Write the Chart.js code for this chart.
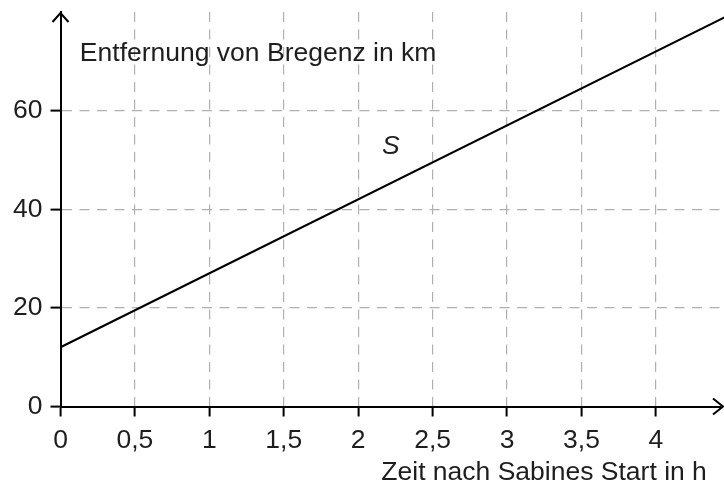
<!DOCTYPE html>
<html><head><meta charset="utf-8">
<script src="https://cdn.jsdelivr.net/npm/chart.js@4.4.1/dist/chart.umd.min.js"></script>
<style>html,body{margin:0;padding:0;background:#fff;}#wrap{width:724px;height:487px;position:relative;}</style>
</head><body><div id="wrap"><canvas id="c"></canvas></div>
<script>
// ---- data ----
const times = [0, 4.5];
const distances = [12, 79.5];
const xTicks = [0, 0.5, 1, 1.5, 2, 2.5, 3, 3.5, 4];
const xTickLabels = ['0', '0,5', '1', '1,5', '2', '2,5', '3', '3,5', '4'];
const yTicks = [0, 20, 40, 60];
const yTickLabels = ['0', '20', '40', '60'];
const xAxisTitle = 'Zeit nach Sabines Start in h';
const yAxisTitle = 'Entfernung von Bregenz in km';
const seriesLabel = 'S';
const xRange = [0, 4.437];
const yRange = [0, 80];
const yTitleAt = [0.13, 70];
const xTitleAt = [4.342, -14.9];
const seriesLabelAt = [2.16, 51.3];

const FONT = '"Liberation Sans", Arial, Helvetica, sans-serif';
const FS = 26.5;
const TXT = '#1e1e1e';
const GRID = '#b0b0b0';

const decor = {
  id: 'decor',
  afterDraw(chart) {
    const {ctx, chartArea: a, scales: {x, y}} = chart;
    ctx.save();
    ctx.strokeStyle = '#000';
    ctx.lineWidth = 2;
    ctx.lineJoin = 'miter';
    const x0 = x.getPixelForValue(0);
    ctx.beginPath();
    ctx.moveTo(x0 - 8, a.top + 10);
    ctx.lineTo(x0, a.top + 1);
    ctx.lineTo(x0 + 8, a.top + 10);
    ctx.stroke();
    const y0 = y.getPixelForValue(0);
    ctx.beginPath();
    ctx.moveTo(a.right - 8, y0 - 8);
    ctx.lineTo(a.right + 2, y0);
    ctx.lineTo(a.right - 8, y0 + 8);
    ctx.stroke();
    ctx.fillStyle = TXT;
    ctx.textBaseline = 'alphabetic';
    ctx.textAlign = 'left';
    ctx.font = FS + 'px ' + FONT;
    ctx.fillText(yAxisTitle, x.getPixelForValue(yTitleAt[0]), y.getPixelForValue(yTitleAt[1]));
    ctx.textAlign = 'right';
    ctx.fillText(xAxisTitle, x.getPixelForValue(xTitleAt[0]), y.getPixelForValue(xTitleAt[1]));
    ctx.textAlign = 'left';
    ctx.font = 'italic ' + FS + 'px ' + FONT;
    ctx.fillText(seriesLabel, x.getPixelForValue(seriesLabelAt[0]), y.getPixelForValue(seriesLabelAt[1]));
    ctx.restore();
  }
};

const gridOpts = {
  color: c => (c.tick && c.tick.value === 0) ? 'rgba(0,0,0,0)' : GRID,
  lineWidth: 1.2,
  tickColor: '#000', tickWidth: 2, tickLength: 10, tickBorderDash: []
};

new Chart(document.getElementById('c'), {
  type: 'line',
  data: {
    datasets: [{
      label: seriesLabel,
      data: times.map((t, i) => ({x: t, y: distances[i]})),
      borderColor: '#000',
      borderWidth: 2.2,
      pointRadius: 0,
      fill: false,
      tension: 0,
      clip: {left: 0, right: 4, top: 8, bottom: 0}
    }]
  },
  options: {
    responsive: true,
    maintainAspectRatio: false,
    animation: false,
    events: [],
    layout: {padding: {top: 12, right: 3, left: 0, bottom: 0}},
    plugins: {legend: {display: false}, tooltip: {enabled: false}},
    scales: {
      x: {
        type: 'linear',
        min: xRange[0], max: xRange[1],
        afterBuildTicks: s => { s.ticks = xTicks.map(v => ({value: v})); },
        afterFit: s => { s.height = 80.5; s.paddingLeft = 0; s.paddingRight = 0; },
        ticks: {
          autoSkip: false, maxRotation: 0, padding: 8,
          color: TXT, font: {family: FONT, size: FS},
          callback: (v, i) => xTickLabels[i]
        },
        grid: gridOpts,
        border: {display: true, color: '#000', width: 2, dash: [10, 7.5]}
      },
      y: {
        type: 'linear',
        min: yRange[0], max: yRange[1],
        afterBuildTicks: s => { s.ticks = yTicks.map(v => ({value: v})); },
        afterFit: s => { s.width = 60.5; s.paddingTop = 0; s.paddingBottom = 0; },
        ticks: {
          padding: 8, color: TXT, font: {family: FONT, size: FS},
          callback: (v, i) => yTickLabels[i]
        },
        grid: gridOpts,
        border: {display: true, color: '#000', width: 2, dash: [10, 7.5]}
      }
    }
  },
  plugins: [decor]
});
</script></body></html>
